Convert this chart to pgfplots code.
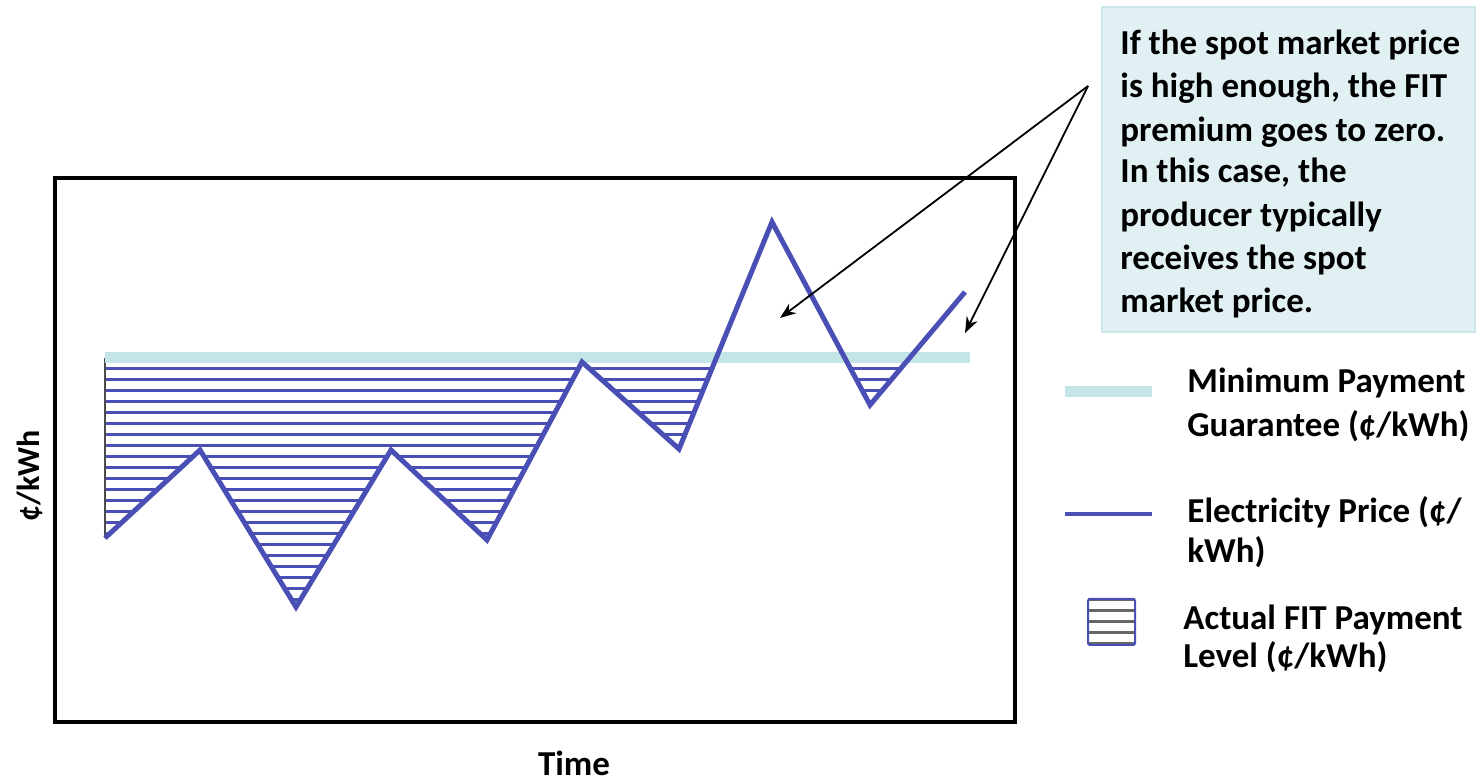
\documentclass[border=0pt]{standalone}
\usepackage{pgfplots}
\pgfplotsset{compat=1.18}
\usepackage{fontspec}
\setmainfont{Carlito}
\usetikzlibrary{arrows.meta,patterns}

\definecolor{priceblue}{HTML}{4A4FB5}
\definecolor{guarcyan}{HTML}{C4E5E8}
\definecolor{boxfill}{HTML}{E0F0F3}
\definecolor{boxline}{HTML}{CDE7EB}

% horizontal hatch
\pgfdeclarepatternformonly{hlines}{\pgfqpoint{-1pt}{-1pt}}{\pgfqpoint{6.5pt}{6.5pt}}{\pgfqpoint{5.5pt}{5.5pt}}{%
  \pgfsetlinewidth{1.2pt}%
  \pgfpathmoveto{\pgfqpoint{-1pt}{2.75pt}}%
  \pgfpathlineto{\pgfqpoint{6.5pt}{2.75pt}}%
  \pgfusepath{stroke}}

\newcommand{\lbl}{\fontsize{17.5}{21.5}\selectfont\bfseries}

\begin{document}
\begin{tikzpicture}
\begin{axis}[
  x=0.5pt, y=0.5pt,
  at={(27.5pt,29.5pt)}, anchor=south west,
  xmin=55, xmax=1015, ymin=59, ymax=603,
  axis lines=box, ticks=none,
  axis line style={line width=2pt},
  clip=false,
]
% shaded FIT payment areas (price below guarantee)
\addplot[draw=none, pattern=hlines, pattern color=priceblue] coordinates {
  (105,423) (105,243) (200,331) (296,174) (391,331) (487,241) (582,419) (582,423)
} -- cycle;
\addplot[draw=none, pattern=hlines, pattern color=priceblue] coordinates {
  (582,423) (582,419) (679,332) (716.3,423)
} -- cycle;
\addplot[draw=none, pattern=hlines, pattern color=priceblue] coordinates {
  (844.8,423) (870,376) (909.5,423)
} -- cycle;
\addplot[black!70, line width=0.6pt] coordinates {(105,423) (105,243)};
% minimum payment guarantee
\addplot[guarcyan, line width=5.5pt] coordinates {(105,423) (970,423)};
% electricity price
\addplot[priceblue, line width=2.5pt, line join=miter] coordinates {
  (105,243) (200,331) (296,174) (391,331) (487,241)
  (582,419) (679,332) (772,559) (870,376) (965,489)
};
\end{axis}

\begin{scope}[yshift=390.5pt, x=0.5pt, y=-0.5pt]
  % callout
  \fill[boxfill, draw=boxline, line width=0.8pt] (1102,7) rectangle (1475,332);
  \foreach \t/\yy in {If the spot market price/55, {is high enough, the FIT}/98,
      premium goes to zero./142, {In this case, the}/183, producer typically/227,
      receives the spot/270, market price./313}
    \node[anchor=base west, inner sep=0pt] at (1120,\yy) {\lbl \t};
  \draw[black, line width=0.9pt, -{Stealth[length=8pt,width=6pt]}] (1088,86) -- (780,318);
  \draw[black, line width=0.9pt, -{Stealth[length=8pt,width=6pt]}] (1088,86) -- (965,333);
  % axis titles
  \node[anchor=base, inner sep=0pt] at (574,775) {\lbl Time};
  \node[rotate=90, inner sep=0pt] at (30,476) {\fontsize{16}{19}\selectfont\bfseries ¢/kWh};
  % legend
  \draw[guarcyan, line width=5.5pt] (1065,392) -- (1152,392);
  \draw[priceblue, line width=2pt] (1065,514) -- (1152,514);
  \fill[pattern=hlines, pattern color=black!60] (1088,599) rectangle (1135,645);
  \draw[priceblue, line width=1pt, rounded corners=1pt] (1088,599) rectangle (1135,645);
  \node[anchor=base west, inner sep=0pt] at (1187,393) {\lbl Minimum Payment};
  \node[anchor=base west, inner sep=0pt] at (1187,437) {\lbl Guarantee (¢/kWh)};
  \node[anchor=base west, inner sep=0pt] at (1187,523) {\lbl Electricity Price (¢/};
  \node[anchor=base west, inner sep=0pt] at (1187,563) {\lbl kWh)};
  \node[anchor=base west, inner sep=0pt] at (1183,630) {\lbl Actual FIT Payment};
  \node[anchor=base west, inner sep=0pt] at (1183,668) {\lbl Level (¢/kWh)};
\end{scope}

\pgfresetboundingbox
\path (0,0) rectangle (738pt,390.5pt);
\end{tikzpicture}
\end{document}
